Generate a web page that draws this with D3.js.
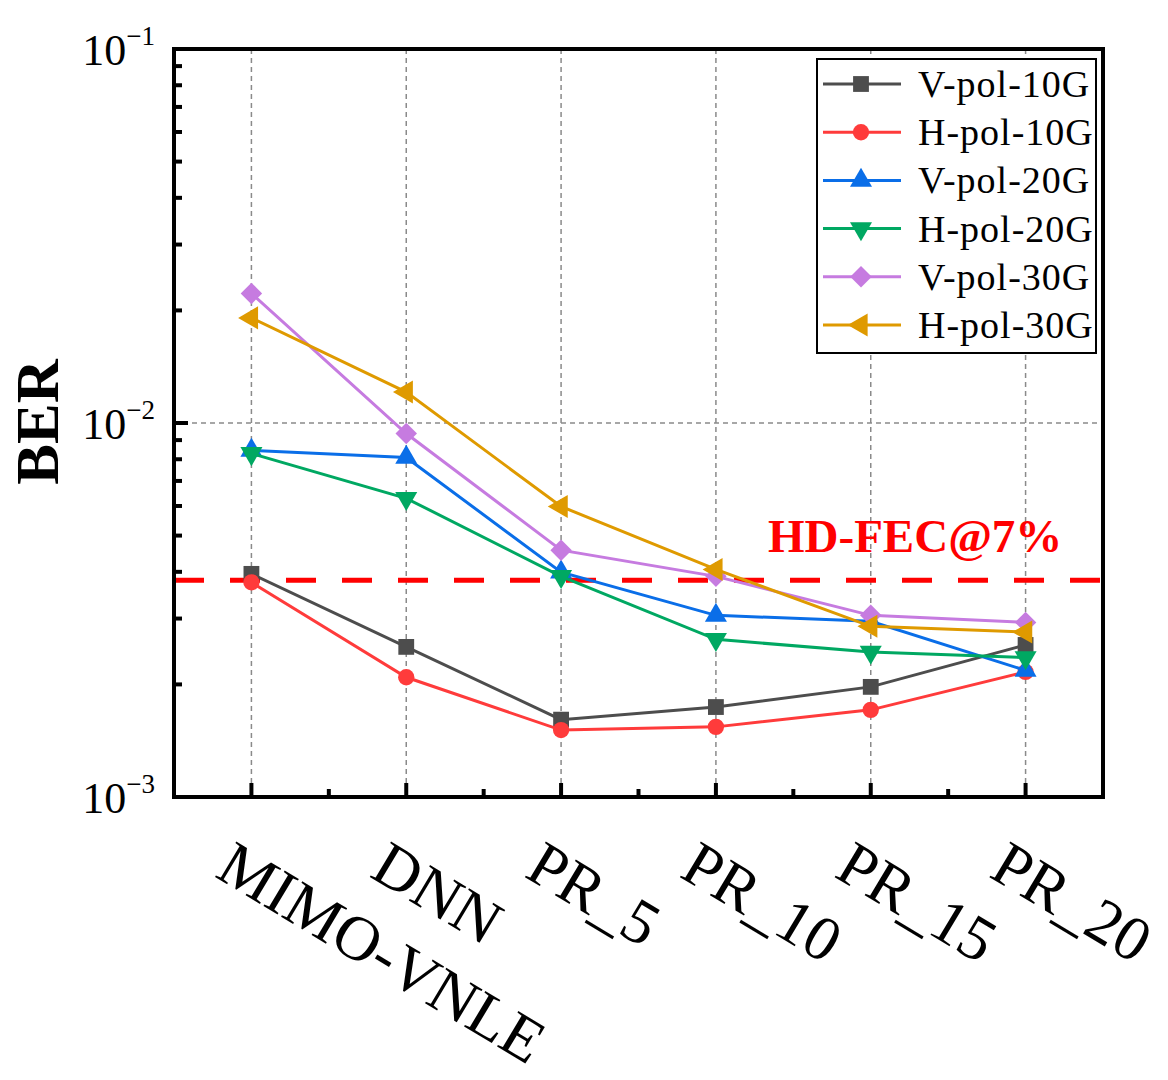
<!DOCTYPE html>
<html><head><meta charset="utf-8">
<script src="https://cdn.jsdelivr.net/npm/d3@7"></script>
<style>body{margin:0;background:#fff}</style>
</head><body>
<svg id="c" width="1168" height="1080"></svg>
<script>
const categories = ["MIMO-VNLE","DNN","PR_5","PR_10","PR_15","PR_20"];
const seriesNames = ["V-pol-10G","H-pol-10G","V-pol-20G","H-pol-20G","V-pol-30G","H-pol-30G"];
const vpol10 = [3.95e-3, 2.52e-3, 1.61e-3, 1.74e-3, 1.97e-3, 2.55e-3];
const hpol10 = [3.75e-3, 2.09e-3, 1.51e-3, 1.54e-3, 1.71e-3, 2.16e-3];
const vpol20 = [8.45e-3, 8.09e-3, 3.99e-3, 3.06e-3, 2.95e-3, 2.18e-3];
const hpol20 = [8.29e-3, 6.29e-3, 3.89e-3, 2.64e-3, 2.44e-3, 2.36e-3];
const vpol30 = [2.22e-2, 9.37e-3, 4.57e-3, 3.89e-3, 3.06e-3, 2.93e-3];
const hpol30 = [1.91e-2, 1.21e-2, 5.98e-3, 4.06e-3, 2.86e-3, 2.76e-3];
const colors = ["#4d4d4d","#ff3b3b","#0a6ee8","#00a862","#c67be0","#df9a00"];
const markers = ["square","circle","triangle","triangleDown","diamond","triangleLeft"];
const yTickExps = [-1,-2,-3];
const fecLevel = 3.8e-3;
const fecLabel = "HD-FEC@7%";

const allSeries = [vpol10,hpol10,vpol20,hpol20,vpol30,hpol30];
const svg = d3.select("#c");
const L=174, R=1103, T=49, B=797;
const font = "'Liberation Serif','Times New Roman',serif";

const x = d3.scaleLinear().domain([0.5, 6.5]).range([L, R]);
const y = d3.scaleLog().domain([1e-3, 1e-1]).range([B, T]);

// gridlines
const grid = svg.append("g");
categories.forEach((c,i)=>{
  grid.append("line").attr("x1",x(i+1)).attr("x2",x(i+1)).attr("y1",T).attr("y2",B)
    .attr("stroke","#8a8a8a").attr("stroke-width",1.5).attr("stroke-dasharray","5,4");
});
grid.append("line").attr("x1",L).attr("x2",R).attr("y1",y(1e-2)).attr("y2",y(1e-2))
  .attr("stroke","#8a8a8a").attr("stroke-width",1.5).attr("stroke-dasharray","5,4");

// FEC line
svg.append("line").attr("x1",L).attr("x2",R).attr("y1",y(fecLevel)).attr("y2",y(fecLevel))
  .attr("stroke","#ff0000").attr("stroke-width",5).attr("stroke-dasharray","30,26");
svg.append("text").attr("x",768).attr("y",y(fecLevel)-28).text(fecLabel)
  .attr("font-family",font).attr("font-weight","bold").attr("font-size",47).attr("fill","#ff0000");

function symbolPath(type){
  switch(type){
    case "square": return {d:d3.symbol(d3.symbolSquare, 250)(), r:0};
    case "circle": return {d:d3.symbol(d3.symbolCircle, 210)(), r:0};
    case "triangle": return {d:d3.symbol(d3.symbolTriangle, 210)(), r:0};
    case "triangleDown": return {d:d3.symbol(d3.symbolTriangle, 210)(), r:180};
    case "diamond": return {d:d3.symbol(d3.symbolSquare, 230)(), r:45};
    case "triangleLeft": return {d:d3.symbol(d3.symbolTriangle, 230)(), r:-90};
  }
}

const line = d3.line().x((d,i)=>x(i+1)).y(d=>y(d));
allSeries.forEach((vals,si)=>{
  const g = svg.append("g");
  g.append("path").attr("d",line(vals)).attr("fill","none").attr("stroke",colors[si]).attr("stroke-width",3);
  const sp = symbolPath(markers[si]);
  vals.forEach((v,i)=>{
    g.append("path").attr("d",sp.d).attr("fill",colors[si])
      .attr("transform",`translate(${x(i+1)},${y(v)}) rotate(${sp.r})`);
  });
});

// frame
svg.append("rect").attr("x",L).attr("y",T).attr("width",R-L).attr("height",B-T)
  .attr("fill","none").attr("stroke","#000").attr("stroke-width",4);

// y ticks (inward)
const yt = svg.append("g");
for(let e=-3;e<-1;e++){
  for(let m=2;m<10;m++){
    const v = m*Math.pow(10,e);
    yt.append("line").attr("x1",L).attr("x2",L+8).attr("y1",y(v)).attr("y2",y(v)).attr("stroke","#000").attr("stroke-width",4);
  }
}
yTickExps.forEach(e=>{
  const yy=y(Math.pow(10,e));
  yt.append("line").attr("x1",L).attr("x2",L+14).attr("y1",yy).attr("y2",yy).attr("stroke","#000").attr("stroke-width",4);
  const t = yt.append("text").attr("x",155).attr("y",yy+16).attr("text-anchor","end")
    .attr("font-family",font).attr("font-size",44).attr("fill","#000");
  t.append("tspan").text("10");
  t.append("tspan").attr("dy",-20).attr("font-size",27).text("\u2212"+(-e));
});

// x ticks (inward) major + minor
const xt = svg.append("g");
categories.forEach((c,i)=>{
  xt.append("line").attr("x1",x(i+1)).attr("x2",x(i+1)).attr("y1",B).attr("y2",B-14).attr("stroke","#000").attr("stroke-width",4);
  if(i<categories.length-1){
    xt.append("line").attr("x1",x(i+1.5)).attr("x2",x(i+1.5)).attr("y1",B).attr("y2",B-8).attr("stroke","#000").attr("stroke-width",4);
  }
  xt.append("text").attr("transform",`translate(${x(i+1)-38},${876}) rotate(31)`)
    .attr("font-family",font).attr("font-size",63).attr("fill","#000").text(c);
});

// y axis title
svg.append("text").attr("transform","translate(58,422) rotate(-90)").attr("text-anchor","middle")
  .attr("font-family",font).attr("font-weight","bold").attr("font-size",61).text("BER");

// legend
const lg = svg.append("g");
lg.append("rect").attr("x",817).attr("y",59).attr("width",279).attr("height",294)
  .attr("fill","#fff").attr("stroke","#000").attr("stroke-width",2);
seriesNames.forEach((n,si)=>{
  const ry = 84 + si*48.2;
  lg.append("line").attr("x1",823).attr("x2",901).attr("y1",ry).attr("y2",ry).attr("stroke",colors[si]).attr("stroke-width",3);
  const sp = symbolPath(markers[si]);
  lg.append("path").attr("d",sp.d).attr("fill",colors[si]).attr("transform",`translate(861,${ry}) rotate(${sp.r})`);
  lg.append("text").attr("x",918).attr("y",ry+13).attr("font-family",font).attr("font-size",38)
    .attr("letter-spacing",1).attr("fill","#000").text(n);
});
</script>
</body></html>
